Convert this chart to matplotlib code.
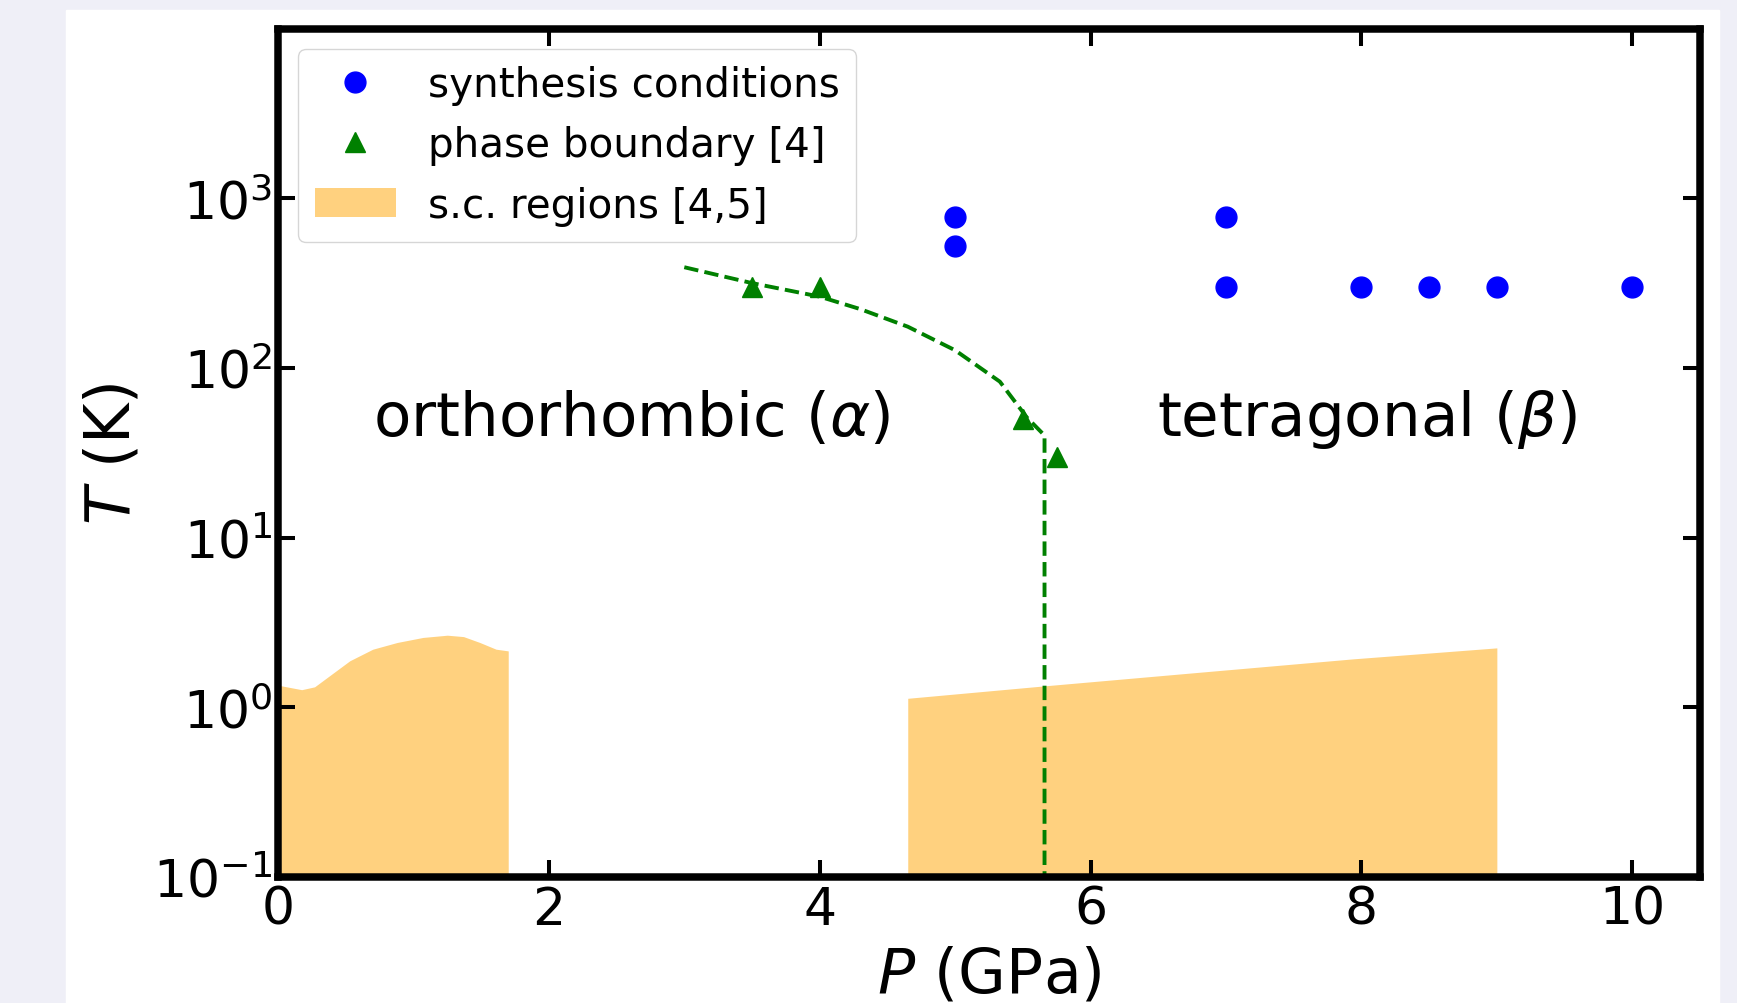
import matplotlib
matplotlib.use("Agg")
import matplotlib.pyplot as plt
from matplotlib.patches import Rectangle
from matplotlib.ticker import NullLocator

# synthesis conditions (P in GPa, T in K)
synth_P = [5, 5, 7, 7, 8, 8.5, 9, 10]
synth_T = [773, 523, 773, 300, 300, 300, 300, 300]

# phase boundary points [4]
pb_P = [3.5, 4.0, 5.5, 5.75]
pb_T = [300, 300, 50, 30]

# guide line for the boundary
bnd_P = [3.0, 3.5, 4.0, 4.3, 4.65, 5.0, 5.33, 5.53, 5.66, 5.66]
bnd_T = [392, 316, 263, 222, 175, 127, 83, 51, 40, 0.1]

# superconducting regions [4,5]
sc1_P = [0, 0.175, 0.27, 0.53, 0.70, 0.88, 1.07, 1.25, 1.37, 1.49, 1.61, 1.70]
sc1_T = [1.35, 1.27, 1.32, 1.88, 2.20, 2.41, 2.58, 2.66, 2.61, 2.41, 2.20, 2.15]
sc2_P = [4.65, 5.67, 6.77, 7.94, 9.0]
sc2_T = [1.13, 1.34, 1.60, 1.93, 2.24]

W, H = 1737, 1004
fig = plt.figure(figsize=(W / 100, H / 100), dpi=100, facecolor="#efeff7")
fig.patches.append(Rectangle((66 / W, 0), (1719 - 66) / W, (H - 11) / H,
                             transform=fig.transFigure, color="white", zorder=-10))
ax = fig.add_axes([278 / W, 1 - 878 / H, (1700 - 278) / W, (878 - 29.5) / H])

ax.fill_between(sc1_P, 0.1, sc1_T, color="orange", alpha=0.5, lw=0, label="s.c. regions [4,5]")
ax.fill_between(sc2_P, 0.1, sc2_T, color="orange", alpha=0.5, lw=0)
ax.plot(bnd_P, bnd_T, "g--", lw=2.8)
ax.plot(synth_P, synth_T, "bo", ms=15, label="synthesis conditions")
ax.plot(pb_P, pb_T, "g^", ms=14, label="phase boundary [4]")

ax.text(2.61, 40, r"orthorhombic ($\alpha$)", fontsize=44, ha="center", va="baseline")
ax.text(8.04, 40, r"tetragonal ($\beta$)", fontsize=44, ha="center", va="baseline")

ax.set_yscale("log")
ax.set_xlim(0, 10.5)
ax.set_ylim(0.1, 1e4)
ax.set_xticks([0, 2, 4, 6, 8, 10])
ax.set_yticks([0.1, 1, 10, 100, 1000])
ax.yaxis.set_minor_locator(NullLocator())
ax.tick_params(direction="in", top=True, right=True, length=12, width=2.9,
               labelsize=37.5, pad=4)
ax.tick_params(axis="x", pad=5.5)
for sp in ax.spines.values():
    sp.set_linewidth(5.4)

ax.set_xlabel(r"$P$ (GPa)", fontsize=44.5, labelpad=7)
ax.set_ylabel(r"$T$ (K)", fontsize=44.5)
ax.yaxis.set_label_coords(-0.0956, 0.5)

h, l = ax.get_legend_handles_labels()
order = [1, 2, 0]
ax.legend([h[i] for i in order], [l[i] for i in order], loc="upper left",
          fontsize=29.2)

fig.savefig("out.png", dpi=100, facecolor=fig.get_facecolor())
